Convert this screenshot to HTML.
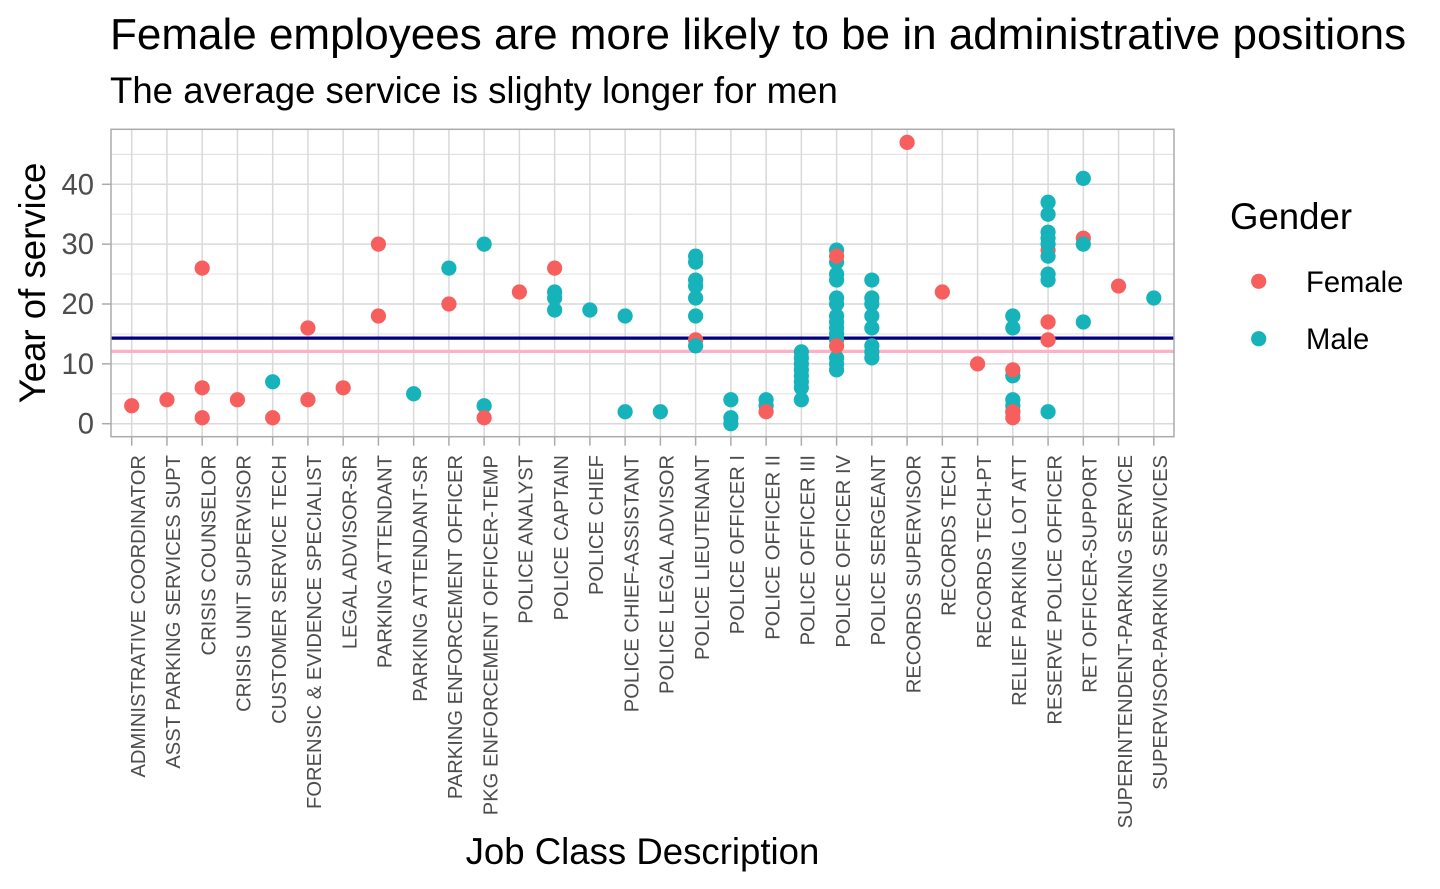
<!DOCTYPE html>
<html lang="en">
<head>
<meta charset="utf-8">
<title>Female employees are more likely to be in administrative positions</title>
<style>
html,body{margin:0;padding:0;background:#fff;width:1440px;height:889px;overflow:hidden}
svg{display:block;font-family:"Liberation Sans",Arial,sans-serif}
</style>
</head>
<body>
<svg id="chart" width="1440" height="889" viewBox="0 0 1440 889" xmlns="http://www.w3.org/2000/svg">
  <rect x="0" y="0" width="1440" height="889" fill="#fff"/>
  <text x="110" y="49" font-size="44" fill="#000">Female employees are more likely to be in administrative positions</text>
  <text x="110" y="103" font-size="36.6" fill="#000">The average service is slighty longer for men</text>
  <g id="grid"></g>
  <g id="refs"></g>
  <g id="points"></g>
  <rect x="111" y="129.3" width="1063" height="307.4" fill="none" stroke="#ababab" stroke-width="1.5"/>
  <g id="xaxis"></g>
  <g id="yaxis"></g>
  <text transform="translate(45,283) rotate(-90)" text-anchor="middle" font-size="36.6" fill="#000">Year of service</text>
  <text x="642.5" y="864" text-anchor="middle" font-size="36.6" fill="#000">Job Class Description</text>
  <g>
    <text x="1230" y="229" font-size="36.6" fill="#000">Gender</text>
    <g>
      <circle cx="1258.7" cy="281.3" r="7.6" fill="#F65F5D"/>
      <text x="1306" y="292" font-size="29.2" fill="#000">Female</text>
    </g>
    <g>
      <circle cx="1258.7" cy="338.7" r="7.6" fill="#16B3BA"/>
      <text x="1306" y="349" font-size="29.2" fill="#000">Male</text>
    </g>
  </g>
</svg>
<script>
var categories = ["ADMINISTRATIVE COORDINATOR","ASST PARKING SERVICES SUPT","CRISIS COUNSELOR","CRISIS UNIT SUPERVISOR","CUSTOMER SERVICE TECH","FORENSIC & EVIDENCE SPECIALIST","LEGAL ADVISOR-SR","PARKING ATTENDANT","PARKING ATTENDANT-SR","PARKING ENFORCEMENT OFFICER","PKG ENFORCEMENT OFFICER-TEMP","POLICE ANALYST","POLICE CAPTAIN","POLICE CHIEF","POLICE CHIEF-ASSISTANT","POLICE LEGAL ADVISOR","POLICE LIEUTENANT","POLICE OFFICER I","POLICE OFFICER II","POLICE OFFICER III","POLICE OFFICER IV","POLICE SERGEANT","RECORDS SUPERVISOR","RECORDS TECH","RECORDS TECH-PT","RELIEF PARKING LOT ATT","RESERVE POLICE OFFICER","RET OFFICER-SUPPORT","SUPERINTENDENT-PARKING SERVICE","SUPERVISOR-PARKING SERVICES"];
// Years of service per category. Male points are split in two lists only for paint order.
var maleBehindFemale = [[],[],[],[],[7],[],[],[],[5],[26],[30,3],[],[22,21,19],[19],[18,2],[2],[28,27,24,23,21,18],[4,1,0],[4,3],[12,11,10,9,8,7,6,4],[29,27,25,24,21,20,18,17,16,15,14,11,10,9],[24,21,20,18,16,13,12,11],[],[],[],[18,16,8,4,3,2],[37,35,2],[41,17],[],[21]];
var femaleYears = [[3],[4],[26,6,1],[4],[1],[16,4],[6],[30,18],[],[20],[1],[22],[26],[],[],[],[14],[],[2],[],[28,13],[],[47],[22],[10],[9,2,1],[29,17,14],[31],[23],[]];
var maleAboveFemale = [[],[],[],[],[],[],[],[],[],[],[],[],[],[],[],[],[13],[],[],[],[],[],[],[],[],[],[32,31,30,28,25,24],[30],[],[]];
var yMajorTicks = [0,10,20,30,40];
var yMinorTicks = [5,15,25,35,45];
var meanServiceMale = 14.3;
var meanServiceFemale = 12.08;

var NS = "http://www.w3.org/2000/svg";
var PANEL = {left:111, right:1174, top:129.3, bottom:436.7};
function xScale(i){ return 131.7 + i * 35.245; }
function yScale(v){ return 423.7 - v * 5.985; }
function make(tag, parent, attrs){
  var el = document.createElementNS(NS, tag);
  for (var k in attrs) el.setAttribute(k, attrs[k]);
  parent.appendChild(el);
  return el;
}
var grid = document.getElementById("grid");
var refs = document.getElementById("refs");
var pts = document.getElementById("points");
var xaxis = document.getElementById("xaxis");
var yaxis = document.getElementById("yaxis");

yMinorTicks.forEach(function(v){
  var el = make("line", grid, {x1:PANEL.left, x2:PANEL.right, y1:yScale(v), y2:yScale(v), stroke:"#dedede", "stroke-width":0.9});
  
  
});
yMajorTicks.forEach(function(v){
  var el = make("line", grid, {x1:PANEL.left, x2:PANEL.right, y1:yScale(v), y2:yScale(v), stroke:"#d9d9d9", "stroke-width":1.5});
  
  
  var tick = make("line", yaxis, {x1:PANEL.left-9, x2:PANEL.left, y1:yScale(v), y2:yScale(v), stroke:"#ababab", "stroke-width":1.5});
  
  
  var label = make("text", yaxis, {x:PANEL.left-17, y:yScale(v)+10, "text-anchor":"end", "font-size":29.2, fill:"#4d4d4d"});
  
  
  label.textContent = v;
});
categories.forEach(function(c, i){
  var x = xScale(i);
  var el = make("line", grid, {x1:x, x2:x, y1:PANEL.top, y2:PANEL.bottom, stroke:"#d9d9d9", "stroke-width":1.5});
  
  
  var tick = make("line", xaxis, {x1:x, x2:x, y1:PANEL.bottom, y2:PANEL.bottom+9, stroke:"#ababab", "stroke-width":1.5});
  
  
  var label = make("text", xaxis, {transform:"translate("+(x+13.3)+",455) rotate(-90)", "text-anchor":"end", "font-size":20.17, fill:"#4d4d4d"});
  
  
  label.textContent = c;
});

var maleLine = make("line", refs, {x1:PANEL.left, x2:PANEL.right, y1:yScale(meanServiceMale), y2:yScale(meanServiceMale), stroke:"#000080", "stroke-width":3.2});


var femaleLine = make("line", refs, {x1:PANEL.left, x2:PANEL.right, y1:yScale(meanServiceFemale), y2:yScale(meanServiceFemale), stroke:"#FFB0C4", "stroke-width":3.2});



function drawMale(series){
  series.forEach(function(vals, i){
    vals.forEach(function(v){
      var c = make("circle", pts, {cx:xScale(i), cy:yScale(v), r:7.6, fill:"#16B3BA"});
      
      
    });
  });
}
function drawFemale(series){
  series.forEach(function(vals, i){
    vals.forEach(function(v){
      var c = make("circle", pts, {cx:xScale(i), cy:yScale(v), r:7.6, fill:"#F65F5D"});
      
      
    });
  });
}
drawMale(maleBehindFemale);
drawFemale(femaleYears);
drawMale(maleAboveFemale);
</script>
</body>
</html>
